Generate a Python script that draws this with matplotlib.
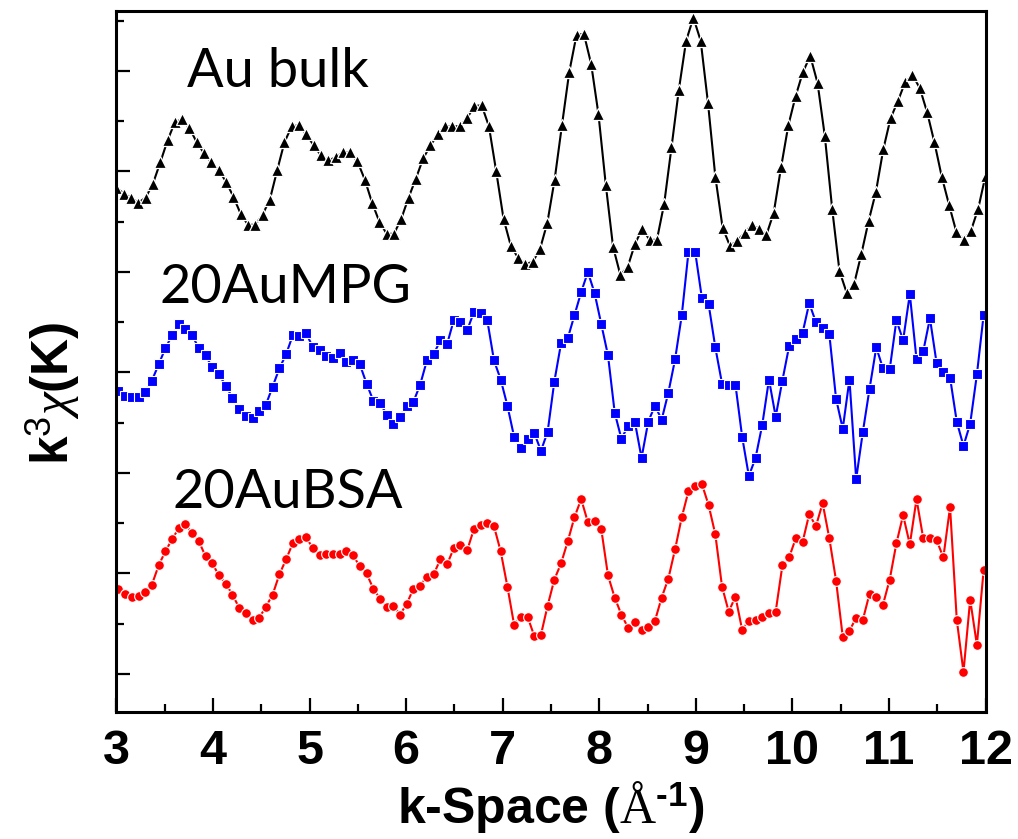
import numpy as np
import matplotlib
matplotlib.use("Agg")
import matplotlib.pyplot as plt
from matplotlib.ticker import MultipleLocator

plt.rcParams['font.family'] = ['Liberation Sans', 'DejaVu Sans']
plt.rcParams['mathtext.fontset'] = 'custom'
plt.rcParams['mathtext.rm'] = 'Liberation Sans'
plt.rcParams['mathtext.bf'] = 'Liberation Sans:bold'
plt.rcParams['mathtext.it'] = 'Liberation Serif:italic'
plt.rcParams['mathtext.sf'] = 'Liberation Serif'

# k3chi(k), each series relative to its own baseline
au_bulk = [-0.16, -0.22, -0.26, -0.31, -0.26, -0.12, 0.09, 0.31, 0.49, 0.52,
           0.43, 0.29, 0.18, 0.09, 0.01, -0.10, -0.25, -0.42, -0.53, -0.53,
           -0.43, -0.28, 0.01, 0.29, 0.45, 0.46, 0.37, 0.26, 0.16, 0.11,
           0.14, 0.19, 0.19, 0.10, -0.08, -0.31, -0.50, -0.62, -0.62, -0.47,
           -0.26, -0.07, 0.13, 0.26, 0.37, 0.45, 0.45, 0.45, 0.53, 0.65,
           0.66, 0.45, 0.00, -0.47, -0.74, -0.86, -0.92, -0.90, -0.77, -0.51,
           -0.08, 0.46, 0.99, 1.36, 1.37, 1.07, 0.57, -0.13, -0.75, -1.03,
           -0.95, -0.72, -0.57, -0.68, -0.68, -0.32, 0.24, 0.81, 1.30, 1.53,
           1.30, 0.68, -0.05, -0.56, -0.74, -0.69, -0.61, -0.53, -0.57, -0.63,
           -0.41, 0.04, 0.46, 0.75, 0.99, 1.15, 0.88, 0.35, -0.37, -0.99,
           -1.21, -1.12, -0.82, -0.49, -0.20, 0.22, 0.53, 0.70, 0.89, 0.96,
           0.83, 0.59, 0.29, -0.05, -0.33, -0.60, -0.68, -0.59, -0.37, -0.04]

au_mpg = [-0.18, -0.23, -0.24, -0.24, -0.19, -0.08, 0.08, 0.24, 0.37, 0.48,
          0.43, 0.37, 0.24, 0.17, 0.05, -0.02, -0.13, -0.25, -0.36, -0.43,
          -0.45, -0.38, -0.32, -0.14, 0.04, 0.18, 0.37, 0.36, 0.39, 0.25,
          0.22, 0.16, 0.14, 0.19, 0.10, 0.12, 0.08, -0.11, -0.28, -0.30,
          -0.42, -0.51, -0.44, -0.33, -0.29, -0.12, 0.12, 0.18, 0.32, 0.28,
          0.52, 0.50, 0.42, 0.60, 0.59, 0.52, 0.12, -0.07, -0.33, -0.64,
          -0.75, -0.66, -0.60, -0.78, -0.59, -0.09, 0.29, 0.34, 0.57, 0.80,
          1.00, 0.79, 0.48, 0.17, -0.40, -0.66, -0.53, -0.49, -0.85, -0.49,
          -0.33, -0.47, -0.20, 0.13, 0.57, 1.20, 1.20, 0.74, 0.68, 0.25,
          -0.11, -0.12, -0.12, -0.64, -1.03, -0.85, -0.52, -0.07, -0.44, -0.08,
          0.26, 0.33, 0.39, 0.69, 0.50, 0.44, 0.38, -0.26, -0.56, -0.07,
          -1.06, -0.59, -0.16, 0.25, 0.04, 0.03, 0.52, 0.32, 0.78, 0.13,
          0.21, 0.54, 0.09, 0.00, -0.05, -0.49, -0.73, -0.51, -0.02, 0.57]

au_bsa = [-0.15, -0.20, -0.23, -0.22, -0.18, -0.11, 0.08, 0.22, 0.34, 0.45,
          0.49, 0.40, 0.32, 0.17, 0.10, -0.02, -0.10, -0.21, -0.34, -0.39,
          -0.46, -0.44, -0.33, -0.21, -0.01, 0.14, 0.30, 0.34, 0.36, 0.25,
          0.18, 0.19, 0.19, 0.19, 0.22, 0.18, 0.07, 0.00, -0.15, -0.25,
          -0.33, -0.32, -0.41, -0.30, -0.15, -0.12, -0.03, -0.01, 0.14, 0.09,
          0.25, 0.28, 0.23, 0.44, 0.48, 0.50, 0.47, 0.22, -0.13, -0.51,
          -0.43, -0.43, -0.62, -0.61, -0.32, -0.06, 0.10, 0.32, 0.56, 0.74,
          0.51, 0.52, 0.44, -0.02, -0.24, -0.41, -0.54, -0.48, -0.56, -0.53,
          -0.47, -0.24, -0.05, 0.24, 0.56, 0.82, 0.87, 0.89, 0.68, 0.39,
          -0.13, -0.38, -0.23, -0.56, -0.47, -0.46, -0.43, -0.39, -0.38, 0.08,
          0.16, 0.35, 0.31, 0.59, 0.47, 0.70, 0.35, -0.07, -0.63, -0.57,
          -0.44, -0.46, -0.20, -0.23, -0.31, -0.06, 0.30, 0.58, 0.29, 0.74,
          0.35, 0.35, 0.33, 0.16, 0.66, -0.46, -0.98, -0.26, -0.71, 0.03]

# k grids (A^-1)
k_bulk = np.linspace(3.0, 12.0, len(au_bulk))
k_nano = np.linspace(3.02, 11.98, len(au_mpg))

names = ["Au bulk", "20AuMPG", "20AuBSA"]
offsets = [5, 3, 1]

fig = plt.figure(figsize=(10.18, 8.39), dpi=100)
ax = fig.add_axes([0.1144, 0.1514, 0.8537, 0.8355])

# white marker edges leave small gaps in the line around each symbol
ax.plot(k_bulk, np.array(au_bulk) + offsets[0], '-^', color='black', lw=1.5,
        ms=8.6, mec='white', mew=0.9)
ax.plot(k_nano, np.array(au_mpg) + offsets[1], '-s', color='#0000ff', lw=1.5,
        ms=6.8, mec='white', mew=0.8)
ax.plot(k_nano, np.array(au_bsa) + offsets[2], '-o', color='#ff0000', lw=1.5,
        ms=7.0, mec='white', mew=0.8)

ax.text(0.081, 0.8916, names[0], transform=ax.transAxes, fontsize=39,
        family='Lato', va='baseline')
ax.text(0.049, 0.5835, names[1], transform=ax.transAxes, fontsize=39,
        family='Lato', va='baseline')
ax.text(0.064, 0.291, names[2], transform=ax.transAxes, fontsize=39,
        family='Lato', va='baseline')

ax.set_xlim(3, 12)
ax.set_ylim(-0.378, 6.597)
ax.xaxis.set_major_locator(MultipleLocator(1))
ax.xaxis.set_minor_locator(MultipleLocator(0.5))
ax.yaxis.set_major_locator(MultipleLocator(1))
ax.yaxis.set_minor_locator(MultipleLocator(0.5))
ax.tick_params(which='both', direction='in', top=False, right=False, width=1.6)
ax.tick_params(which='major', length=10)
ax.tick_params(which='minor', length=5.5)
ax.tick_params(axis='x', labelsize=35, pad=12)
ax.tick_params(axis='y', labelleft=False)
for lab in ax.get_xticklabels():
    lab.set_fontweight('bold')
for sp in ax.spines.values():
    sp.set_linewidth(2.2)

ax.set_xlabel("k-Space ($\\mathsf{Å}^{\\mathbf{\u20101}}$)", fontsize=36,
              fontweight='bold')
ax.set_ylabel(r"k$^{3}\chi$(K)", fontsize=37, fontweight='bold')
ax.yaxis.set_label_coords(-0.040, 0.455)

fig.savefig("out.png", dpi=100)
